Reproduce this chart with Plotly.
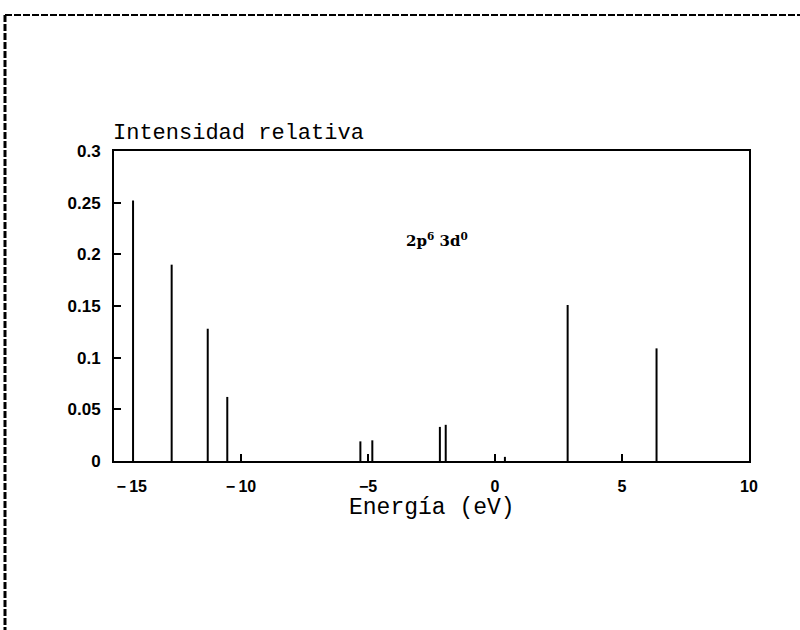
import plotly.graph_objects as go

# Data
energies = [-14.25, -12.73, -11.31, -10.54, -5.30, -4.83, -2.17, -1.94, 0.39, 2.86, 6.36]
intensities = [0.252, 0.190, 0.128, 0.062, 0.019, 0.020, 0.033, 0.035, 0.004, 0.151, 0.109]
x_ticks = [-15, -10, -5, 0, 5, 10]
x_ticklabels = ["\u00a0" * 8 + "\u2212\u200915", "\u2212\u200910", "\u22125", "0", "5", "10"]
y_ticks = [0, 0.05, 0.1, 0.15, 0.2, 0.25, 0.3]
y_ticklabels = ["0", "0.05", "0.1", "0.15", "0.2", "0.25", "0.3"]

# build stick spectrum
xs, ys = [], []
for e, i in zip(energies, intensities):
    xs += [e, e, None]
    ys += [0, i, None]

fig = go.Figure()
fig.add_trace(go.Scatter(x=xs, y=ys, mode="lines",
                         line=dict(color="black", width=2), showlegend=False,
                         hoverinfo="skip"))

fig.add_annotation(x=-2.28, y=0.214, xref="x", yref="y",
                   text="<b>2p<sup>6</sup> 3d<sup>0</sup></b>", showarrow=False,
                   font=dict(family="DejaVu Serif", size=15, color="black"))

fig.add_annotation(x=0, y=1.0, xref="paper", yref="paper", xanchor="left", yanchor="bottom",
                   yshift=3, xshift=-3,
                   text="Intensidad relativa", showarrow=False,
                   font=dict(family="Liberation Mono", size=22, color="black"))

fig.add_annotation(x=0.5, y=0, xref="paper", yref="paper", xanchor="center", yanchor="middle",
                   yshift=-47,
                   text="Energía (eV)", showarrow=False,
                   font=dict(family="Liberation Mono", size=23, color="black"))

# scanned page frame edges
fig.add_shape(type="line", xref="paper", yref="paper",
              x0=(5 - 114) / 635, x1=(800 - 114) / 635,
              y0=(461 - 15) / 310, y1=(461 - 15) / 310,
              line=dict(color="black", width=2, dash="7px,2px"))
fig.add_shape(type="line", xref="paper", yref="paper",
              x0=(5 - 114) / 635, x1=(5 - 114) / 635,
              y0=(461 - 15) / 310, y1=(461 - 630) / 310,
              line=dict(color="black", width=3, dash="7px,2px"))

xtickfont = dict(family="Liberation Sans", size=16, color="black", weight="bold")
ytickfont = dict(family="Liberation Sans", size=17, color="black", weight="bold")
fig.update_layout(
    width=800, height=630,
    margin=dict(l=114, r=51, t=151, b=169),
    paper_bgcolor="white", plot_bgcolor="white",
    xaxis=dict(range=[-15, 10], tickmode="array", tickvals=x_ticks, ticktext=x_ticklabels,
               ticks="inside", ticklen=7, tickwidth=2, tickcolor="black",
               ticklabelstandoff=10,
               showline=True, linecolor="black", linewidth=2, mirror=True,
               showgrid=False, zeroline=False, tickfont=xtickfont),
    yaxis=dict(range=[0, 0.3], tickmode="array", tickvals=y_ticks, ticktext=y_ticklabels,
               ticks="inside", ticklen=7, tickwidth=2, tickcolor="black",
               ticklabelstandoff=8,
               showline=True, linecolor="black", linewidth=2, mirror=True,
               showgrid=False, zeroline=False, tickfont=ytickfont),
)

fig.write_html("out.html")
